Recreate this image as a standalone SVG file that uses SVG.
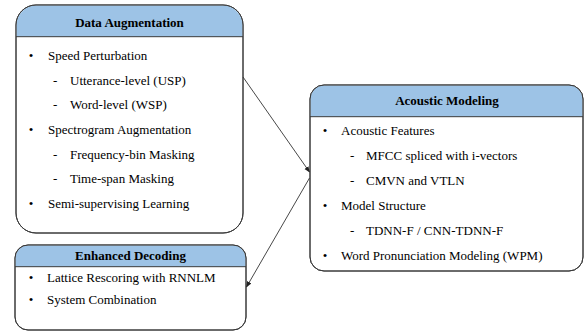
<svg xmlns="http://www.w3.org/2000/svg" width="585" height="331" viewBox="0 0 585 331">
<style>
.box{fill:#ffffff;stroke:#3a3a3a;stroke-width:1}
.hdr{fill:#9dc3e6;stroke:none}
.sep{stroke:#3a3a3a;stroke-width:1}
text{font-family:'Liberation Serif','Times New Roman',Times,serif;font-size:13px;fill:#000}
.title{font-weight:bold;text-anchor:middle}
.b{text-anchor:middle}
.conn{stroke:#333;stroke-width:0.9;fill:none;marker-end:url(#ah)}
</style>
<defs>
<marker id="ah" viewBox="0 0 10 10" refX="9" refY="5" markerWidth="6" markerHeight="6" orient="auto" markerUnits="userSpaceOnUse">
<path d="M0,1 L10,5 L0,9 Z" fill="#222"/>
</marker>
</defs>
<rect width="585" height="331" fill="#fff"/>
<g id="data-augmentation" font-family="Liberation Serif, serif">
<rect class="box" x="16" y="5" width="227" height="228" rx="20"/>
<path class="hdr" d="M16.5,36.7 V25 A19.5,19.5 0 0 1 36,5.5 H223 A19.5,19.5 0 0 1 242.5,25 V36.7 Z"/>
<rect x="16" y="5" width="227" height="228" rx="20" fill="none" stroke="#3a3a3a"/>
<line class="sep" x1="16" y1="36.7" x2="243" y2="36.7"/>
<text class="title" x="129.5" y="27">Data Augmentation</text>
<text class="b" x="31" y="60">•</text><text x="48" y="60">Speed Perturbation</text>
<text x="53" y="84.5">-</text><text x="70" y="84.5">Utterance-level (USP)</text>
<text x="53" y="109">-</text><text x="70" y="109">Word-level (WSP)</text>
<text class="b" x="31" y="134">•</text><text x="48" y="134">Spectrogram Augmentation</text>
<text x="53" y="158.5">-</text><text x="70" y="158.5">Frequency-bin Masking</text>
<text x="53" y="183">-</text><text x="70" y="183">Time-span Masking</text>
<text class="b" x="31" y="207.5">•</text><text x="48" y="207.5">Semi-supervising Learning</text>
</g>
<g id="enhanced-decoding">
<rect class="box" x="15" y="245" width="231" height="85" rx="13"/>
<path class="hdr" d="M15.5,266.7 V258 A12.5,12.5 0 0 1 28,245.5 H233 A12.5,12.5 0 0 1 245.5,258 V266.7 Z"/>
<rect x="15" y="245" width="231" height="85" rx="13" fill="none" stroke="#3a3a3a"/>
<line class="sep" x1="15" y1="266.7" x2="246" y2="266.7"/>
<text class="title" x="130.5" y="260">Enhanced Decoding</text>
<text class="b" x="31" y="282">•</text><text x="47" y="282">Lattice Rescoring with RNNLM</text>
<text class="b" x="31" y="304">•</text><text x="47" y="304">System Combination</text>
</g>
<g id="acoustic-modeling">
<rect class="box" x="310" y="85" width="273" height="186" rx="14"/>
<path class="hdr" d="M310.5,116.7 V99 A13.5,13.5 0 0 1 324,85.5 H569 A13.5,13.5 0 0 1 582.5,99 V116.7 Z"/>
<rect x="310" y="85" width="273" height="186" rx="14" fill="none" stroke="#3a3a3a"/>
<line class="sep" x1="310" y1="116.7" x2="583" y2="116.7"/>
<text class="title" x="447" y="105">Acoustic Modeling</text>
<text class="b" x="325" y="135">•</text><text x="341" y="135">Acoustic Features</text>
<text x="350" y="160">-</text><text x="366" y="160">MFCC spliced with i-vectors</text>
<text x="350" y="185">-</text><text x="366" y="185">CMVN and VTLN</text>
<text class="b" x="325" y="210">•</text><text x="341" y="210">Model Structure</text>
<text x="350" y="235">-</text><text x="366" y="235">TDNN-F / CNN-TDNN-F</text>
<text class="b" x="325" y="260">•</text><text x="341" y="260">Word Pronunciation Modeling (WPM)</text>
</g>
<g id="connectors">
<line class="conn" x1="243" y1="77" x2="309.5" y2="172"/>
<line class="conn" x1="309.5" y1="178" x2="246.5" y2="287"/>
</g>
</svg>
